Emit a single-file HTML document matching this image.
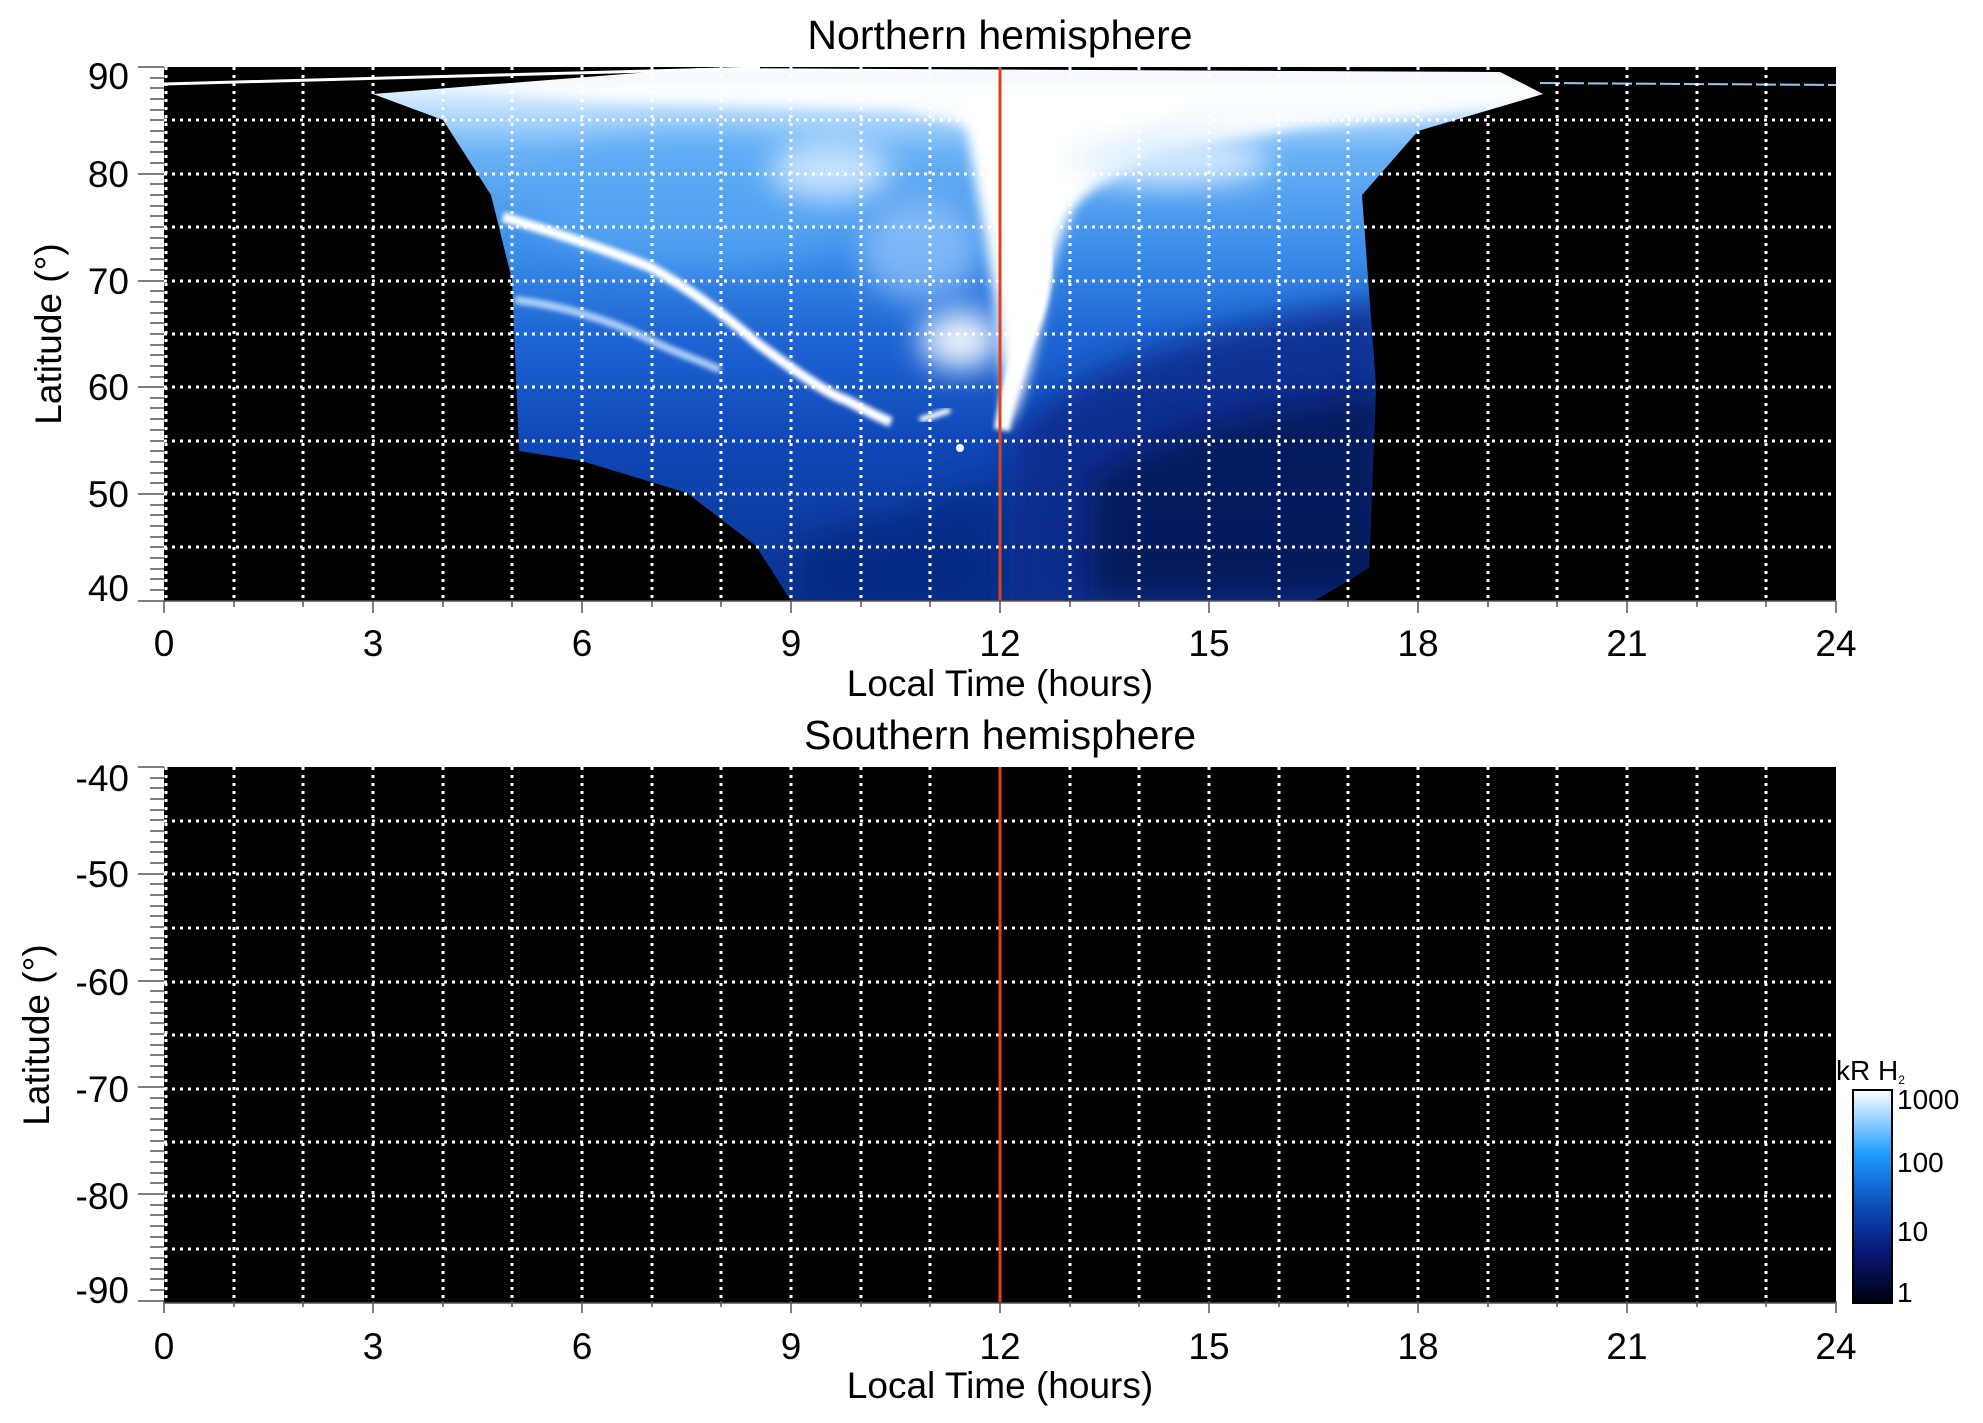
<!DOCTYPE html>
<html><head><meta charset="utf-8"><style>
html,body{margin:0;padding:0;background:#fff;}
svg{display:block;font-family:"Liberation Sans",Arial,sans-serif;}
</style></head><body>
<svg width="1983" height="1423" viewBox="0 0 1983 1423" xmlns="http://www.w3.org/2000/svg">
<defs>
<linearGradient id="vg" x1="0" y1="67" x2="0" y2="601" gradientUnits="userSpaceOnUse">
<stop offset="0" stop-color="#ffffff"/>
<stop offset="0.06" stop-color="#d0e8ff"/>
<stop offset="0.16" stop-color="#6ab2f6"/>
<stop offset="0.35" stop-color="#3a8ce8"/>
<stop offset="0.5" stop-color="#1e66d4"/>
<stop offset="0.7" stop-color="#1048b8"/>
<stop offset="1" stop-color="#0a3490"/>
</linearGradient>
<linearGradient id="cb" x1="0" y1="1090" x2="0" y2="1303" gradientUnits="userSpaceOnUse">
<stop offset="0" stop-color="#ffffff"/>
<stop offset="0.3" stop-color="#1e9cff"/>
<stop offset="0.55" stop-color="#0a4cb8"/>
<stop offset="0.75" stop-color="#061a78"/>
<stop offset="1" stop-color="#000010"/>
</linearGradient>
<filter id="b6" x="-50%" y="-50%" width="200%" height="200%"><feGaussianBlur stdDeviation="6"/></filter>
<filter id="b15" x="-50%" y="-50%" width="200%" height="200%"><feGaussianBlur stdDeviation="15"/></filter>
<filter id="b3" x="-20%" y="-20%" width="140%" height="140%"><feGaussianBlur stdDeviation="2.5"/></filter>
<clipPath id="cp1"><rect x="164" y="67" width="1672" height="534"/></clipPath>
<clipPath id="aur"><path d="M373,94 L443,120 L491,195 L512,280 L519,451 L582,461 L687,493 L756,546 L791,601 L1314,601 L1369,568 L1376,387 L1362,195 L1418,131 L1543,94 L1500,72 L700,68 Z"/></clipPath>
</defs>

<!-- Northern panel -->
<rect x="164" y="67" width="1672" height="534" fill="#000"/>
<g clip-path="url(#cp1)">
<path d="M373,94 L443,120 L491,195 L512,280 L519,451 L582,461 L687,493 L756,546 L791,601 L1314,601 L1369,568 L1376,387 L1362,195 L1418,131 L1543,94 L1500,72 L700,68 Z" fill="url(#vg)"/>
<g clip-path="url(#aur)">
<path d="M1010,440 C1060,380 1160,330 1390,300 L1390,601 L1010,601Z" fill="#0a2a8a" filter="url(#b15)" opacity="0.85"/>
<path d="M1090,480 C1160,430 1260,410 1390,390 L1390,601 L1090,601Z" fill="#020a38" filter="url(#b15)" opacity="0.55"/>
<path d="M800,540 L1000,480 L1000,601 L800,601Z" fill="#061e70" filter="url(#b15)" opacity="0.5"/>
<ellipse cx="700" cy="200" rx="170" ry="70" fill="#5aa8f4" filter="url(#b15)" opacity="0.6"/>
<path d="M380,80 L1540,80 L1540,105 L1300,128 L1150,155 L1060,210 L1030,140 L900,110 L600,100Z" fill="#fff" filter="url(#b6)" opacity="0.9"/>
<path d="M960,90 L1220,90 C1110,130 1060,200 1045,300 C1035,360 1022,400 1008,430 L995,300 Z" fill="#fff" filter="url(#b6)"/>
<path d="M1000,130 C1040,200 1060,260 1030,330 C1010,380 1005,410 1002,430" stroke="#fff" stroke-width="16" fill="none" filter="url(#b3)"/>
<ellipse cx="830" cy="170" rx="60" ry="30" fill="#d8ecff" filter="url(#b15)" opacity="0.85"/>
<ellipse cx="960" cy="340" rx="40" ry="30" fill="#f0f8ff" filter="url(#b15)" opacity="0.95"/>
<ellipse cx="1170" cy="160" rx="100" ry="25" fill="#e0f0ff" filter="url(#b15)" opacity="0.9"/>
<ellipse cx="920" cy="250" rx="60" ry="50" fill="#a8d2ff" filter="url(#b15)" opacity="0.6"/>
<path d="M503,217 C580,240 620,255 650,267 C700,295 730,320 757,343 C800,375 830,395 846,400 C865,410 880,418 891,422" stroke="#fff" stroke-width="10" fill="none" filter="url(#b3)"/>
<path d="M515,300 C560,305 610,320 650,340 C680,355 700,360 720,370" stroke="#cfe6ff" stroke-width="8" fill="none" filter="url(#b3)" opacity="0.8"/>
<path d="M920,420 L950,410" stroke="#fff" stroke-width="6" filter="url(#b3)"/>
<circle cx="960" cy="448" r="4" fill="#fff"/>
</g>
<path d="M164,84 L760,68" stroke="#fff" stroke-width="3"/>
<path d="M1540,83 L1836,85" stroke="#9cc8f0" stroke-width="2" stroke-dasharray="20 4"/>
</g>
<g stroke="#fff" stroke-width="3" stroke-dasharray="3 5" fill="none">
<path d="M234,67V601M303,67V601M373,67V601M443,67V601M512,67V601M582,67V601M652,67V601M721,67V601M791,67V601M861,67V601M930,67V601M1070,67V601M1139,67V601M1209,67V601M1279,67V601M1348,67V601M1418,67V601M1488,67V601M1557,67V601M1627,67V601M1697,67V601M1766,67V601M166,67V601"/>
<path d="M164,120H1836M164,174H1836M164,227H1836M164,281H1836M164,334H1836M164,387H1836M164,441H1836M164,494H1836M164,547H1836"/>
</g>
<line x1="1000" y1="67" x2="1000" y2="601" stroke="#e0401a" stroke-width="3"/>

<!-- Southern panel -->
<rect x="164" y="767" width="1672" height="536" fill="#000"/>
<g stroke="#fff" stroke-width="3" stroke-dasharray="3 5" fill="none">
<path d="M234,767V1303M303,767V1303M373,767V1303M443,767V1303M512,767V1303M582,767V1303M652,767V1303M721,767V1303M791,767V1303M861,767V1303M930,767V1303M1070,767V1303M1139,767V1303M1209,767V1303M1279,767V1303M1348,767V1303M1418,767V1303M1488,767V1303M1557,767V1303M1627,767V1303M1697,767V1303M1766,767V1303M166,767V1303"/>
<path d="M164,821H1836M164,874H1836M164,928H1836M164,982H1836M164,1035H1836M164,1089H1836M164,1142H1836M164,1196H1836M164,1249H1836"/>
</g>
<line x1="1000" y1="767" x2="1000" y2="1303" stroke="#e0401a" stroke-width="3"/>

<!-- axes ticks -->
<g id="ticks" stroke="#555" stroke-width="1.5">
<path d="M138,67H164M138,174H164M138,281H164M138,387H164M138,494H164M138,601H164"/>
<path d="M150,78H164M150,88H164M150,99H164M150,110H164M150,120H164M150,131H164M150,142H164M150,152H164M150,163H164M150,184H164M150,195H164M150,206H164M150,216H164M150,227H164M150,238H164M150,248H164M150,259H164M150,270H164M150,291H164M150,302H164M150,313H164M150,323H164M150,334H164M150,345H164M150,355H164M150,366H164M150,377H164M150,398H164M150,408H164M150,419H164M150,430H164M150,441H164M150,451H164M150,462H164M150,473H164M150,483H164M150,505H164M150,515H164M150,526H164M150,537H164M150,547H164M150,558H164M150,569H164M150,579H164M150,590H164"/>
<path d="M164,601v12M373,601v12M582,601v12M791,601v12M1000,601v12M1209,601v12M1418,601v12M1627,601v12M1836,601v12M234,601v6M303,601v6M443,601v6M512,601v6M652,601v6M721,601v6M861,601v6M930,601v6M1070,601v6M1139,601v6M1279,601v6M1348,601v6M1488,601v6M1557,601v6M1697,601v6M1766,601v6"/>
</g>
<use href="#ticks" transform="translate(0,700)"/>
<line x1="164" y1="1303" x2="1836" y2="1303" stroke="#555" stroke-width="1.5"/>
<line x1="164" y1="601" x2="1836" y2="601" stroke="#555" stroke-width="1.5"/>

<!-- text -->
<g font-size="37" fill="#000">
<text x="1000" y="49" text-anchor="middle" font-size="41">Northern hemisphere</text>
<text x="1000" y="749" text-anchor="middle" font-size="41">Southern hemisphere</text>
<g text-anchor="end">
<text x="129" y="89">90</text><text x="129" y="187">80</text><text x="129" y="294">70</text><text x="129" y="400">60</text><text x="129" y="507">50</text><text x="129" y="601">40</text>
<text x="129" y="791">-40</text><text x="129" y="887">-50</text><text x="129" y="995">-60</text><text x="129" y="1102">-70</text><text x="129" y="1209">-80</text><text x="129" y="1303">-90</text>
</g>
<g text-anchor="middle">
<text x="164" y="656">0</text><text x="373" y="656">3</text><text x="582" y="656">6</text><text x="791" y="656">9</text><text x="1000" y="656">12</text><text x="1209" y="656">15</text><text x="1418" y="656">18</text><text x="1627" y="656">21</text><text x="1836" y="656">24</text>
<text x="164" y="1359">0</text><text x="373" y="1359">3</text><text x="582" y="1359">6</text><text x="791" y="1359">9</text><text x="1000" y="1359">12</text><text x="1209" y="1359">15</text><text x="1418" y="1359">18</text><text x="1627" y="1359">21</text><text x="1836" y="1359">24</text>
<text x="1000" y="696">Local Time (hours)</text>
<text x="1000" y="1398">Local Time (hours)</text>
<text transform="translate(61,334) rotate(-90)">Latitude (°)</text>
<text transform="translate(49,1035) rotate(-90)">Latitude (°)</text>
</g>
</g>

<!-- colorbar -->
<rect x="1853" y="1090" width="39" height="213" fill="url(#cb)" stroke="#000" stroke-width="2"/>
<g font-size="28" fill="#000">
<text x="1836" y="1080">kR H<tspan font-size="12" dy="4">2</tspan></text>
<text x="1897" y="1109">1000</text>
<text x="1897" y="1172">100</text>
<text x="1897" y="1241">10</text>
<text x="1897" y="1302">1</text>
</g>
</svg>
</body></html>
